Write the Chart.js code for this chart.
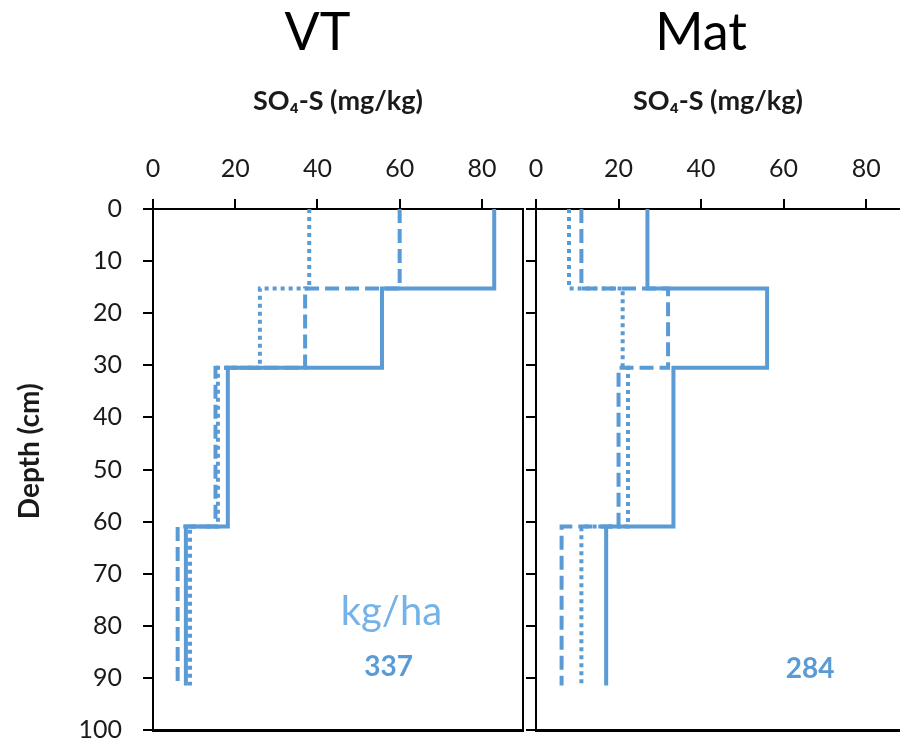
<!DOCTYPE html>
<html>
<head>
<meta charset="utf-8">
<script src="https://cdn.jsdelivr.net/npm/chart.js@4/dist/chart.umd.min.js"></script>
<style>
  html, body { margin: 0; padding: 0; background: #fff; overflow: hidden; }
  body { width: 900px; height: 746px; position: relative; }
  canvas { position: absolute; top: 0; }
  #vtChart { left: 0; }
  #matChart { left: 526px; }
</style>
</head>
<body>
<canvas id="vtChart" width="530" height="746"></canvas>
<canvas id="matChart" width="374" height="746"></canvas>
<script>
// depth layers (cm), 0-6", 6-12", 12-24", 24-36"
const depthBreaks = [0, 15.24, 30.48, 60.96, 91.44];
const depthTicks = [0, 10, 20, 30, 40, 50, 60, 70, 80, 90, 100];
const so4Ticks = [0, 20, 40, 60, 80];

// SO4-S (mg/kg) per layer
const vtSolid = [83, 55.7, 18.2, 8];
const vtDashed = [60, 37, 15.2, 6];
const vtDotted = [38, 26, 15.8, 9];

const matSolid = [27, 56, 33.3, 17];
const matDashed = [11, 32, 20, 6.2];
const matDotted = [8, 21, 22.3, 11];

const panelTitles = ['VT', 'Mat'];
const totals = ['337', '284'];
const unitLabel = 'kg/ha';

const blue = '#5b9bd5';
const fontFam = 'Lato, "Open Sans", sans-serif';
Chart.defaults.font.family = fontFam;
Chart.defaults.color = '#1a1a1a';

function stepPoints(vals) {
    var pts = [];
    vals.forEach((v, i) => {
        pts.push({ x: v, y: depthBreaks[i] });
        pts.push({ x: v, y: depthBreaks[i + 1] });
    });
    return pts;
}

function makeDatasets(solid, dashed, dotted) {
    var base = { showLine: true, pointRadius: 0, borderColor: blue, borderWidth: 4, borderCapStyle: 'butt', borderJoinStyle: 'miter', fill: false };
    return [
        Object.assign({}, base, { label: 'dotted', data: stepPoints(dotted), borderDash: [4, 4] }),
        Object.assign({}, base, { label: 'dashed', data: stepPoints(dashed), borderDash: [14, 6] }),
        Object.assign({}, base, { label: 'solid', data: stepPoints(solid) })
    ];
}

// text drawn on the chart (titles, units, totals)
function textPlugin(items) {
    return {
        id: 'panelText',
        afterDraw(chart) {
            const ctx = chart.ctx;
            const xs = chart.scales.x, ys = chart.scales.y;
            items.forEach(it => {
                ctx.save();
                ctx.font = it.font;
                ctx.fillStyle = it.color;
                ctx.textAlign = 'center';
                ctx.textBaseline = it.baseline || 'alphabetic';
                var px = it.px != null ? it.px : xs.getPixelForValue(it.x);
                var py = it.py != null ? it.py : ys.getPixelForValue(it.y);
                ctx.translate(px, py);
                if (it.rotate) ctx.rotate(it.rotate);
                ctx.fillText(it.text, 0, 0);
                ctx.restore();
            });
        }
    };
}

// box round the plot area (bottom and, if asked, right side)
function framePlugin(drawRight) {
    return {
        id: 'frame',
        afterDraw(chart) {
            const { ctx, chartArea } = chart;
            ctx.save();
            ctx.fillStyle = '#000';
            ctx.fillRect(chartArea.left - 1, chartArea.bottom - 1, chartArea.right - chartArea.left + 2, 3);
            if (drawRight) ctx.fillRect(chartArea.right - 1, chartArea.top - 1, 2, chartArea.bottom - chartArea.top + 2);
            ctx.restore();
        }
    };
}

function makeOptions(showYLabels, yWidth, rightPad, xMax) {
    return {
        responsive: false,
        animation: false,
        devicePixelRatio: 1,
        layout: { padding: { top: 0, right: rightPad, bottom: 16, left: 0 } },
        plugins: { legend: { display: false }, tooltip: { enabled: false } },
        scales: {
            x: {
                type: 'linear',
                position: 'top',
                min: 0,
                max: xMax,
                afterBuildTicks: (s) => { s.ticks = so4Ticks.map(v => ({ value: v })); },
                afterFit: (s) => { s.height = 209; s.paddingLeft = 0; s.paddingRight = 0; },
                ticks: { padding: 15, font: { size: 25 }, color: '#1a1a1a', maxRotation: 0 },
                grid: { display: true, drawOnChartArea: false, tickLength: 10, color: '#000', lineWidth: 2 },
                border: { display: true, color: '#000', width: 2 },
                title: { display: true, text: 'SO₄-S (mg/kg)', font: { size: 27, weight: 'bold' }, color: '#1a1a1a', padding: { top: 85, bottom: 0 } }
            },
            y: {
                type: 'linear',
                reverse: true,
                min: 0,
                max: 100,
                afterBuildTicks: (s) => { s.ticks = depthTicks.map(v => ({ value: v })); },
                afterFit: (s) => { s.width = yWidth; s.paddingTop = 0; s.paddingBottom = 0; },
                ticks: { display: showYLabels, padding: 21, font: { size: 25 }, color: '#1a1a1a' },
                grid: { display: true, drawOnChartArea: false, tickLength: 10, color: '#000', lineWidth: 2 },
                border: { display: true, color: '#000', width: 2 }
            }
        }
    };
}

new Chart(document.getElementById('vtChart'), {
    type: 'scatter',
    data: { datasets: makeDatasets(vtSolid, vtDashed, vtDotted) },
    options: makeOptions(true, 153, 7, 90),
    plugins: [framePlugin(true), textPlugin([
        { text: panelTitles[0], x: 40, py: 50, font: '52px ' + fontFam, color: '#000' },
        { text: 'Depth (cm)', px: 30, y: 46.5, rotate: -Math.PI / 2, baseline: 'middle', font: 'bold 28px ' + fontFam, color: '#1a1a1a' },
        { text: unitLabel, x: 58, y: 79.8, font: '40px ' + fontFam, color: '#74b3e8' },
        { text: totals[0], x: 57.3, y: 89.6, font: 'bold 28px ' + fontFam, color: blue }
    ])]
});

// right panel is cut by the picture edge, so its axis stops a little short of 90
new Chart(document.getElementById('matChart'), {
    type: 'scatter',
    data: { datasets: makeDatasets(matSolid, matDashed, matDotted) },
    options: makeOptions(false, 10, 0, 88.2),
    plugins: [framePlugin(false), textPlugin([
        { text: panelTitles[1], x: 40, py: 50, font: '52px ' + fontFam, color: '#000' },
        { text: totals[1], x: 66.4, y: 90, font: 'bold 28px ' + fontFam, color: blue }
    ])]
});
</script>
</body>
</html>
